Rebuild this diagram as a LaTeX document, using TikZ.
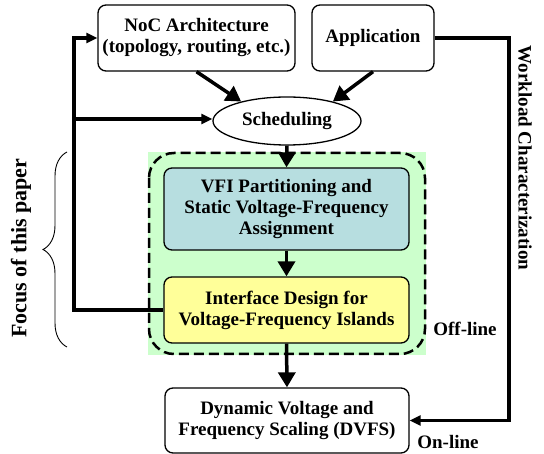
\documentclass[tikz,border=0pt]{standalone}
\usepackage{fontspec}
\setmainfont{Liberation Serif}
\usetikzlibrary{arrows.meta,decorations.pathreplacing,shapes.geometric}
\definecolor{bggreen}{RGB}{204,255,204}
\definecolor{vfiblue}{RGB}{183,222,224}
\definecolor{ifyellow}{RGB}{255,255,153}
\begin{document}
\begin{tikzpicture}[x=1pt,y=-1pt,
  txt/.style={font=\fontsize{19}{21}\selectfont\bfseries, align=center},
  box/.style={txt, draw, rounded corners=8pt, line width=1.3pt, inner sep=0pt},
  arr/.style={line width=3.5pt, -{Triangle[length=15pt,width=17pt]}},
  sarr/.style={line width=3.5pt, -{Triangle[length=11pt,width=10pt]}}]
\useasboundingbox (0,0) rectangle (544,454);
\fill[bggreen] (148,152) rectangle (426,355);
\draw[line width=2.5pt, dash pattern=on 10pt off 5pt, rounded corners=25pt] (149,153) rectangle (425,354);

\node[box, minimum width=197pt, minimum height=66pt] (noc) at (196.5,38) {NoC Architecture\\(topology, routing, etc.)};
\node[box, minimum width=122pt, minimum height=66pt] (app) at (373,38) {Application};
\node[txt, draw, ellipse, line width=1.3pt, minimum width=148pt, minimum height=48pt, inner sep=0pt] (sched) at (287,121) {Scheduling};
\node[box, fill=vfiblue, minimum width=245pt, minimum height=82pt] (vfi) at (286.5,209) {VFI Partitioning and\\Static Voltage-Frequency\\Assignment};
\node[box, fill=ifyellow, minimum width=245pt, minimum height=66pt] (intf) at (286.5,310) {Interface Design for\\Voltage-Frequency Islands};
\node[box, minimum width=244pt, minimum height=65pt] (dvfs) at (287,420.5) {Dynamic Voltage and\\Frequency Scaling (DVFS)};

\coordinate (lt) at (74,38);
\coordinate (lm) at (74,119);
\coordinate (rt) at (509,38);
\coordinate (rb) at (509,420.5);

\draw[arr] (noc.south) -- (sched.157);
\draw[arr] (app.south) -- (sched.23);
\draw[arr] (sched.south) -- (vfi.north);
\draw[arr] (vfi.south) -- (intf.north);
\draw[arr] (intf.south) -- (dvfs.north);
\draw[sarr] (intf.west) -| (lt) -- (noc.west);
\draw[sarr] (lm) -- (sched.west |- lm);
\draw[sarr] (app.east) -- (rt) -- (rb) -- (dvfs.east);

\draw[line width=0.9pt, decorate, decoration={brace, amplitude=24pt, aspect=0.5}] (67,347) -- (67,152);

\node[txt, font=\fontsize{22}{24}\selectfont\bfseries, rotate=90] (focus) at (21,248) {Focus of this paper};
\node[txt, rotate=-90] (work) at (525,158) {Workload Characterization};
\node[txt] (off) at (465,329) {Off-line};
\node[txt] (on) at (448,442) {On-line};
\end{tikzpicture}
\end{document}
